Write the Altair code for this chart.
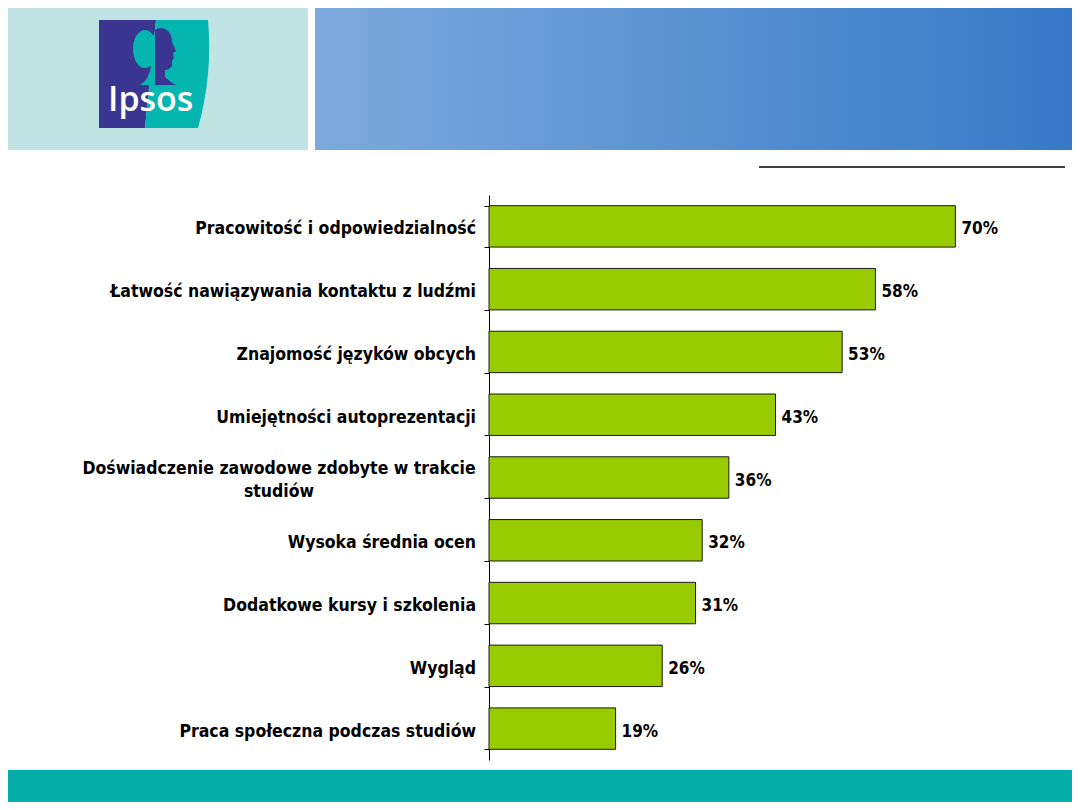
import altair as alt
import pandas as pd
import urllib.parse

categories = [
    "Pracowitość i odpowiedzialność",
    "Łatwość nawiązywania kontaktu z ludźmi",
    "Znajomość języków obcych",
    "Umiejętności autoprezentacji",
    "Doświadczenie zawodowe zdobyte w trakcie studiów",
    "Wysoka średnia ocen",
    "Dodatkowe kursy i szkolenia",
    "Wygląd",
    "Praca społeczna podczas studiów",
]
label_lines = [
    "Pracowitość i odpowiedzialność",
    "Łatwość nawiązywania kontaktu z ludźmi",
    "Znajomość języków obcych",
    "Umiejętności autoprezentacji",
    "Doświadczenie zawodowe zdobyte w trakcie\nstudiów",
    "Wysoka średnia ocen",
    "Dodatkowe kursy i szkolenia",
    "Wygląd",
    "Praca społeczna podczas studiów",
]
values = [70, 58, 53, 43, 36, 32, 31, 26, 19]

df = pd.DataFrame({
    "cat": categories,
    "label": label_lines,
    "value": values,
    "multi": ["\n" in s for s in label_lines],
})
df["vlabel"] = df["value"].astype(str) + "%"

FONT = "DejaVu Sans Condensed"
LSIZE = 17.5
W, H = 533, 565
PAD_L, PAD_T = 481, 187
OX, OY = 8 + PAD_L, 8 + PAD_T  # page coords of plot origin


def lx(px):
    return px - OX


def ly(py):
    return py - OY


base = alt.Chart(df)
yenc = alt.Y("cat:N", sort=categories,
             scale=alt.Scale(paddingInner=0.34, paddingOuter=0.17),
             axis=alt.Axis(labels=False, title=None, domainColor="black",
                           tickColor="black", tickSize=5, tickBand="extent",
                           domainWidth=1, tickWidth=1))

bars = base.mark_bar(color="#99CC00", stroke="#1a1a1a", strokeWidth=1).encode(
    x=alt.X("value:Q", scale=alt.Scale(domain=[0, 80]), axis=None),
    y=yenc,
)

vals = base.mark_text(align="left", baseline="middle", dx=6, dy=3, font=FONT,
                      fontWeight="bold", fontSize=17, color="black").encode(
    x="value:Q", y=alt.Y("cat:N", sort=categories), text="vlabel:N")

lab1 = base.transform_filter("!datum.multi").mark_text(
    align="right", baseline="middle", dy=3, font=FONT, fontWeight="bold",
    fontSize=LSIZE, color="black").encode(
    x=alt.value(-13), y=alt.Y("cat:N", sort=categories), text="label:N")

lab2 = base.transform_filter("datum.multi").mark_text(
    align="center", baseline="middle", dy=-9, font=FONT, fontWeight="bold",
    fontSize=LSIZE, color="black", lineBreak="\n", lineHeight=23).encode(
    x=alt.value(lx(279)), y=alt.Y("cat:N", sort=categories), text="label:N")

deco = alt.Chart(pd.DataFrame({"a": [0]}))

left_box = deco.mark_rect(color="#C0E3E3").encode(
    x=alt.value(lx(-20)), x2=alt.value(lx(308)),
    y=alt.value(ly(-20)), y2=alt.value(ly(150)))

blue_box = deco.mark_rect(
    color=alt.Gradient(gradient="linear",
                       stops=[alt.GradientStop(color="#7DAADC", offset=0),
                              alt.GradientStop(color="#3477C6", offset=1)],
                       x1=0, x2=1, y1=0, y2=0)).encode(
    x=alt.value(lx(315)), x2=alt.value(lx(1100)),
    y=alt.value(ly(-20)), y2=alt.value(ly(150)))

hline = deco.mark_rule(color="black", strokeWidth=1.5).encode(
    x=alt.value(lx(759)), x2=alt.value(lx(1065)), y=alt.value(ly(167)))

footer = deco.mark_rect(color="#04ADA8").encode(
    x=alt.value(lx(-20)), x2=alt.value(lx(1100)),
    y=alt.value(ly(770)), y2=alt.value(ly(830)))

logo_svg = (
    '<svg xmlns="http://www.w3.org/2000/svg" width="117" height="108" viewBox="0 0 117 108">'
    '<path d="M0,0 H57 L46,108 H0 Z" fill="#3A3590"/>'
    '<path d="M57,0 H109 Q114,54 99,108 H46 Z" fill="#05B5AF"/>'
    '<ellipse cx="46" cy="29" rx="12" ry="19" fill="#05B5AF"/>'
    '<path d="M41,65 Q50,60 52,46 L57,46 L57,65 Z" fill="#05B5AF"/>'
    '<path d="M56,10 Q62,6 68,10 Q73,14 73,22 L77,31 L74,33 L75,38 L73,41 L73,46 '
    'Q70,50 66,50 L66,57 Q71,62 77,65 L56,65 Z" fill="#3A3590"/>'
    '</svg>'
)
logo_url = "data:image/svg+xml;charset=utf-8," + urllib.parse.quote(logo_svg)

logo = deco.mark_image(width=117, height=108, align="left", baseline="top").encode(
    x=alt.value(lx(99)), y=alt.value(ly(20)), url=alt.value(logo_url))

ipsos = deco.mark_text(text="Ipsos", align="left", baseline="alphabetic",
                       font="Open Sans", fontWeight=600, fontSize=34,
                       color="white").encode(
    x=alt.value(lx(108)), y=alt.value(ly(111)))

chart = alt.layer(
    left_box, blue_box, hline, footer, logo, ipsos,
    bars, vals, lab1, lab2,
).properties(
    width=W, height=H,
    autosize=alt.AutoSizeParams(type="none"),
    padding={"left": PAD_L, "top": PAD_T, "right": 1064 - PAD_L - W, "bottom": 794 - PAD_T - H},
).configure_view(stroke=None)

chart.save("out.html", embed_options={"renderer": "svg", "actions": False})
